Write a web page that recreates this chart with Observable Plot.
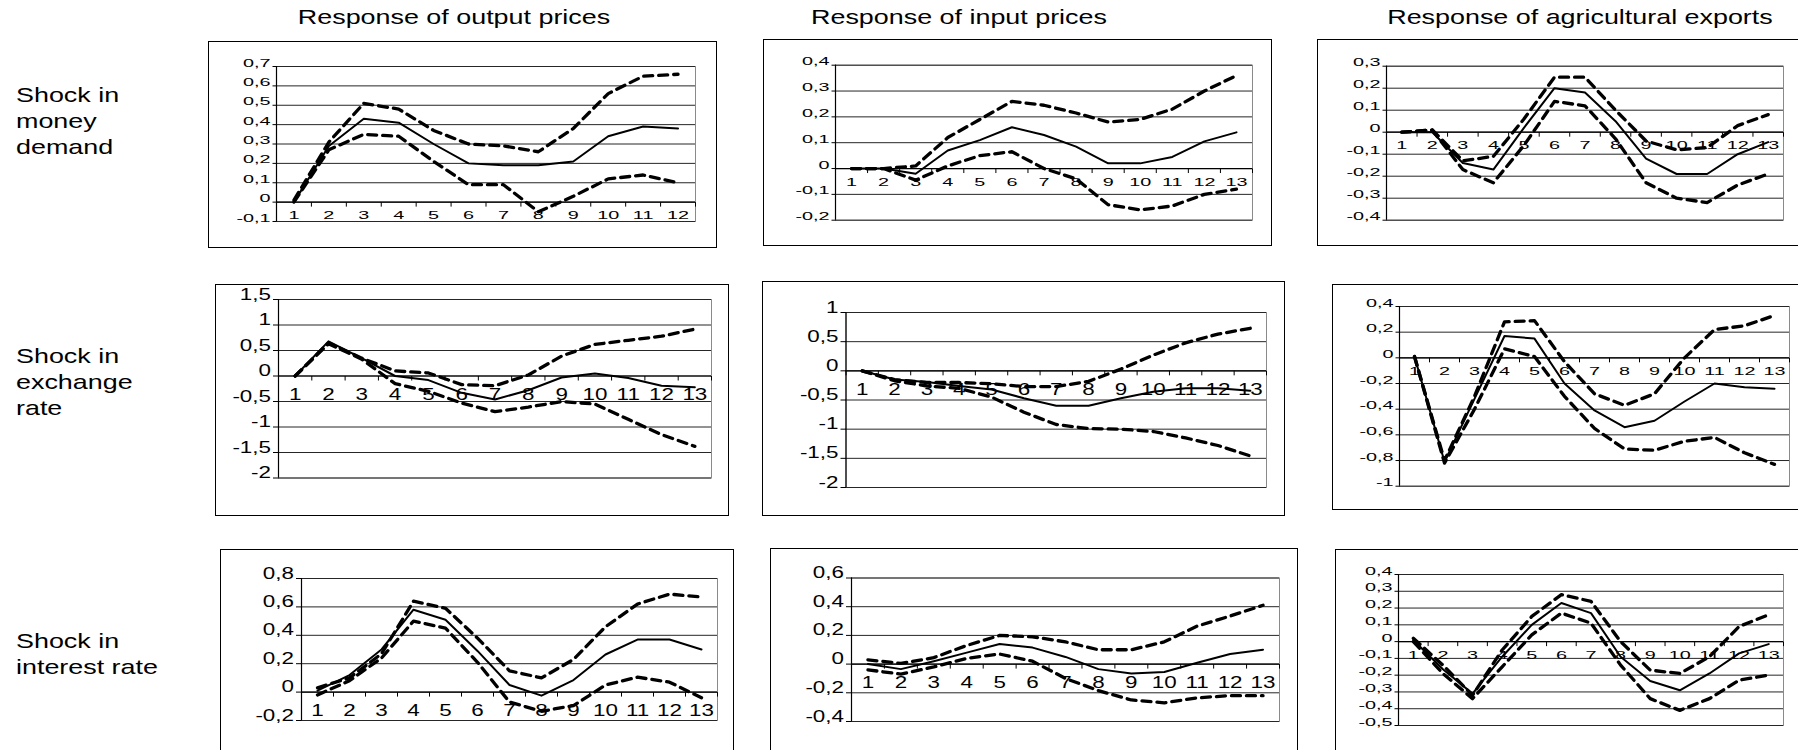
<!DOCTYPE html>
<html><head><meta charset="utf-8">
<script src="https://cdn.jsdelivr.net/npm/d3@7"></script>
<script src="https://cdn.jsdelivr.net/npm/@observablehq/plot@0.6"></script>
<style>
html,body{margin:0;padding:0;background:#fff;}
body{width:1798px;height:750px;position:relative;overflow:hidden;font-family:"Liberation Sans",Arial,sans-serif;color:#000;}
.box{position:absolute;border:1.5px solid #000;box-sizing:border-box;}
.chart{position:absolute;}
.title{position:absolute;font-size:21px;white-space:nowrap;line-height:24px;transform:translate(-50%,-50%) scaleX(1.28);}
.rowlab{position:absolute;font-size:21px;line-height:26px;white-space:nowrap;transform-origin:left top;transform:scaleX(1.28);}
</style></head>
<body>
<script>
// ---------- data ----------
const colTitles = ["Response of output prices", "Response of input prices", "Response of agricultural exports"];
const rowTitles = [["Shock in", "money", "demand"], ["Shock in", "exchange", "rate"], ["Shock in", "interest rate"]];

const periods12 = [1,2,3,4,5,6,7,8,9,10,11,12];
const periods13 = [1,2,3,4,5,6,7,8,9,10,11,12,13];

// shock in money demand
const outMoneyMid = [0.00, 0.29, 0.43, 0.41, 0.30, 0.20, 0.19, 0.19, 0.21, 0.34, 0.39, 0.38];
const outMoneyHi  = [0.01, 0.31, 0.51, 0.48, 0.37, 0.30, 0.29, 0.26, 0.38, 0.56, 0.65, 0.66];
const outMoneyLo  = [0.00, 0.27, 0.35, 0.34, 0.21, 0.09, 0.09, -0.05, 0.03, 0.12, 0.14, 0.10];

const inMoneyMid = [0.00, 0.00, -0.02, 0.07, 0.11, 0.16, 0.13, 0.085, 0.02, 0.02, 0.045, 0.105, 0.14];
const inMoneyHi  = [0.00, 0.00, 0.01, 0.12, 0.19, 0.26, 0.245, 0.215, 0.18, 0.19, 0.23, 0.30, 0.36];
const inMoneyLo  = [0.00, 0.00, -0.045, 0.01, 0.05, 0.065, 0.00, -0.04, -0.14, -0.16, -0.145, -0.10, -0.08];

const agMoneyMid = [0.00, 0.00, -0.14, -0.17, 0.02, 0.20, 0.18, 0.05, -0.12, -0.19, -0.19, -0.10, -0.045];
const agMoneyHi  = [0.00, 0.01, -0.13, -0.11, 0.06, 0.25, 0.25, 0.10, -0.04, -0.08, -0.07, 0.03, 0.08];
const agMoneyLo  = [0.00, 0.01, -0.17, -0.23, -0.06, 0.14, 0.12, -0.03, -0.23, -0.30, -0.32, -0.24, -0.19];

// shock in exchange rate
const outExchMid = [0.00, 0.68, 0.35, 0.00, -0.08, -0.33, -0.46, -0.28, -0.03, 0.05, -0.04, -0.19, -0.22];
const outExchHi  = [0.00, 0.65, 0.35, 0.10, 0.06, -0.17, -0.19, 0.02, 0.39, 0.62, 0.70, 0.78, 0.92];
const outExchLo  = [0.00, 0.63, 0.33, -0.15, -0.30, -0.53, -0.70, -0.61, -0.50, -0.55, -0.85, -1.15, -1.38];

const inExchMid = [0.00, -0.15, -0.19, -0.26, -0.32, -0.47, -0.60, -0.60, -0.47, -0.36, -0.30, -0.30, -0.34];
const inExchHi  = [0.00, -0.15, -0.20, -0.20, -0.22, -0.27, -0.27, -0.18, 0.03, 0.27, 0.48, 0.63, 0.73];
const inExchLo  = [0.00, -0.17, -0.26, -0.30, -0.45, -0.71, -0.92, -0.99, -1.00, -1.04, -1.15, -1.28, -1.46];

const agExchMid = [0.01, -0.81, -0.32, 0.17, 0.15, -0.20, -0.41, -0.54, -0.49, -0.34, -0.20, -0.23, -0.24];
const agExchHi  = [0.01, -0.80, -0.30, 0.28, 0.29, -0.03, -0.28, -0.37, -0.28, 0.00, 0.22, 0.25, 0.33];
const agExchLo  = [0.01, -0.82, -0.40, 0.07, 0.01, -0.30, -0.55, -0.71, -0.72, -0.65, -0.62, -0.74, -0.83];

// shock in interest rate
const outRateMid = [0.01, 0.12, 0.30, 0.58, 0.51, 0.29, 0.05, -0.025, 0.085, 0.265, 0.37, 0.37, 0.30];
const outRateHi  = [0.03, 0.10, 0.27, 0.64, 0.59, 0.38, 0.15, 0.10, 0.23, 0.46, 0.62, 0.69, 0.67];
const outRateLo  = [-0.02, 0.08, 0.24, 0.50, 0.45, 0.21, -0.07, -0.135, -0.095, 0.05, 0.105, 0.07, -0.04];

const inRateMid = [0.00, -0.035, 0.02, 0.08, 0.14, 0.115, 0.05, -0.035, -0.065, -0.055, 0.01, 0.07, 0.10];
const inRateHi  = [0.03, 0.005, 0.045, 0.13, 0.20, 0.19, 0.155, 0.10, 0.10, 0.155, 0.265, 0.335, 0.41];
const inRateLo  = [-0.04, -0.07, -0.02, 0.04, 0.07, 0.02, -0.10, -0.185, -0.25, -0.27, -0.235, -0.22, -0.22];

const agRateMid = [0.01, -0.165, -0.31, -0.09, 0.10, 0.23, 0.17, -0.09, -0.235, -0.29, -0.19, -0.07, -0.015];
const agRateHi  = [0.02, -0.14, -0.32, -0.05, 0.15, 0.28, 0.24, 0.00, -0.17, -0.19, -0.09, 0.09, 0.16];
const agRateLo  = [0.00, -0.19, -0.34, -0.15, 0.04, 0.17, 0.11, -0.14, -0.34, -0.41, -0.34, -0.23, -0.20];

// y tick values
const ticksOutMoney = [-0.1, 0, 0.1, 0.2, 0.3, 0.4, 0.5, 0.6, 0.7];
const ticksInMoney  = [-0.2, -0.1, 0, 0.1, 0.2, 0.3, 0.4];
const ticksAgMoney  = [-0.4, -0.3, -0.2, -0.1, 0, 0.1, 0.2, 0.3];
const ticksOutExch  = [-2, -1.5, -1, -0.5, 0, 0.5, 1, 1.5];
const ticksInExch   = [-2, -1.5, -1, -0.5, 0, 0.5, 1];
const ticksAgExch   = [-1, -0.8, -0.6, -0.4, -0.2, 0, 0.2, 0.4];
const ticksOutRate  = [-0.2, 0, 0.2, 0.4, 0.6, 0.8];
const ticksInRate   = [-0.4, -0.2, 0, 0.2, 0.4, 0.6];
const ticksAgRate   = [-0.5, -0.4, -0.3, -0.2, -0.1, 0, 0.1, 0.2, 0.3, 0.4];

// ---------- layout (page pixels) ----------
const panels = [
  {p: periods12, mid: outMoneyMid, hi: outMoneyHi, lo: outMoneyLo, ticks: ticksOutMoney, box: [208, 41, 717, 248], L: 276, R: 695, T: 66, B: 221, big: false},
  {p: periods13, mid: inMoneyMid, hi: inMoneyHi, lo: inMoneyLo, ticks: ticksInMoney, box: [763, 39, 1272, 246], L: 835, R: 1252, T: 64.7, B: 219.7, big: false},
  {p: periods13, mid: agMoneyMid, hi: agMoneyHi, lo: agMoneyLo, ticks: ticksAgMoney, box: [1317, 39, 1812, 246], L: 1386, R: 1783, T: 65.7, B: 219.7, big: false},
  {p: periods13, mid: outExchMid, hi: outExchHi, lo: outExchLo, ticks: ticksOutExch, box: [215, 284, 729, 516], L: 278, R: 711, T: 299, B: 477.5, big: true},
  {p: periods13, mid: inExchMid, hi: inExchHi, lo: inExchLo, ticks: ticksInExch, box: [762, 281, 1285, 516], L: 845.5, R: 1266, T: 312, B: 487, big: true},
  {p: periods13, mid: agExchMid, hi: agExchHi, lo: agExchLo, ticks: ticksAgExch, box: [1332, 284, 1812, 510], L: 1399, R: 1789, T: 306, B: 485.7, big: false},
  {p: periods13, mid: outRateMid, hi: outRateHi, lo: outRateLo, ticks: ticksOutRate, box: [220, 549, 734, 770], L: 301, R: 717, T: 578, B: 720, big: true},
  {p: periods13, mid: inRateMid, hi: inRateHi, lo: inRateLo, ticks: ticksInRate, box: [770, 548, 1298, 770], L: 851, R: 1279, T: 577.5, B: 721, big: true},
  {p: periods13, mid: agRateMid, hi: agRateHi, lo: agRateLo, ticks: ticksAgRate, box: [1335, 549, 1812, 770], L: 1398, R: 1783, T: 574, B: 725, big: false}
];
const titlePos = [[454, 17], [959, 17], [1580, 17]];
const rowPos = [[16, 82], [16, 342.5], [16, 628]];

const fmt = d => String(+d.toFixed(2)).replace(".", ",");
const vTick = {draw(ctx) { ctx.moveTo(0, 0); ctx.lineTo(0, 4.5); }};
const hTickSmall = {draw(ctx) { ctx.moveTo(0, 0); ctx.lineTo(-4, 0); }};
const hTickBig = {draw(ctx) { ctx.moveTo(0, 0); ctx.lineTo(-5.5, 0); }};

// ---------- titles ----------
colTitles.forEach((t, i) => {
  const d = document.createElement("div");
  d.className = "title"; d.textContent = t;
  d.style.left = titlePos[i][0] + "px"; d.style.top = titlePos[i][1] + "px";
  document.body.appendChild(d);
});
rowTitles.forEach((lines, i) => {
  const d = document.createElement("div");
  d.className = "rowlab"; d.innerHTML = lines.join("<br>");
  d.style.left = rowPos[i][0] + "px"; d.style.top = rowPos[i][1] + "px";
  document.body.appendChild(d);
});

// ---------- panels ----------
panels.forEach(c => {
  const [bx0, by0, bx1, by1] = c.box;
  const box = document.createElement("div");
  box.className = "box";
  Object.assign(box.style, {left: bx0 + "px", top: by0 + "px", width: (bx1 - bx0) + "px", height: (by1 - by0) + "px"});
  document.body.appendChild(box);

  const n = c.p.length;
  const x0 = c.p[0] - 0.5, x1 = c.p[n - 1] + 0.5;
  const bounds = c.p.map(d => d - 0.5).concat([x1]);
  const rows = c.p.map((t, i) => ({t, mid: c.mid[i], hi: c.hi[i], lo: c.lo[i]}));
  const tickLen = c.big ? 5.5 : 4;
  const dash = {stroke: "black", strokeWidth: 3.3, strokeDasharray: "9,6"};
  const chart = Plot.plot({
    width: bx1 - bx0, height: by1 - by0,
    marginLeft: c.L - bx0, marginRight: bx1 - c.R, marginTop: c.T - by0, marginBottom: by1 - c.B,
    x: {domain: [x0, x1], axis: null},
    y: {domain: [d3.min(c.ticks), d3.max(c.ticks)], axis: null},
    style: {fontFamily: '"Liberation Sans", Arial, sans-serif', fontSize: c.big ? "16px" : "11px", color: "black", background: "transparent", overflow: "visible"},
    marks: [
      Plot.frame({stroke: "#8a8a8a", strokeWidth: 1}),
      Plot.ruleY(c.ticks, {stroke: "#262626", strokeWidth: 1}),
      Plot.text(c.p, {x: d => d, y: () => 0, text: d => String(d), dy: c.big ? 24 : 17, fill: "black"}),
      Plot.text(c.ticks, {x: () => x0, y: d => d, text: fmt, textAnchor: "end", dx: -(tickLen + 2), fill: "black"}),
      Plot.dot(c.ticks, {x: () => x0, y: d => d, symbol: c.big ? hTickBig : hTickSmall, stroke: "black", fill: "none", strokeWidth: 1}),
      Plot.ruleX([x0], {stroke: "black", strokeWidth: 1.2}),
      Plot.ruleY([0], {stroke: "black", strokeWidth: 1.2}),
      Plot.dot(bounds, {x: d => d, y: () => 0, symbol: vTick, stroke: "black", fill: "none", strokeWidth: 1}),
      Plot.line(rows, {x: "t", y: "hi", ...dash}),
      Plot.line(rows, {x: "t", y: "lo", ...dash}),
      Plot.line(rows, {x: "t", y: "mid", stroke: "black", strokeWidth: 2})
    ]
  });
  const sx = c.big ? 1.4 : 1.8;
  chart.querySelectorAll("text").forEach(t => {
    const x = +t.getAttribute("x") || 0, y = +t.getAttribute("y") || 0;
    t.removeAttribute("x"); t.removeAttribute("y");
    const tr = t.getAttribute("transform") || "";
    t.setAttribute("transform", `${tr} translate(${x},${y}) scale(${sx},1)`);
  });
  chart.classList.add("chart");
  chart.style.left = bx0 + "px"; chart.style.top = by0 + "px";
  chart.style.position = "absolute";
  document.body.appendChild(chart);
});
</script>
</body></html>
